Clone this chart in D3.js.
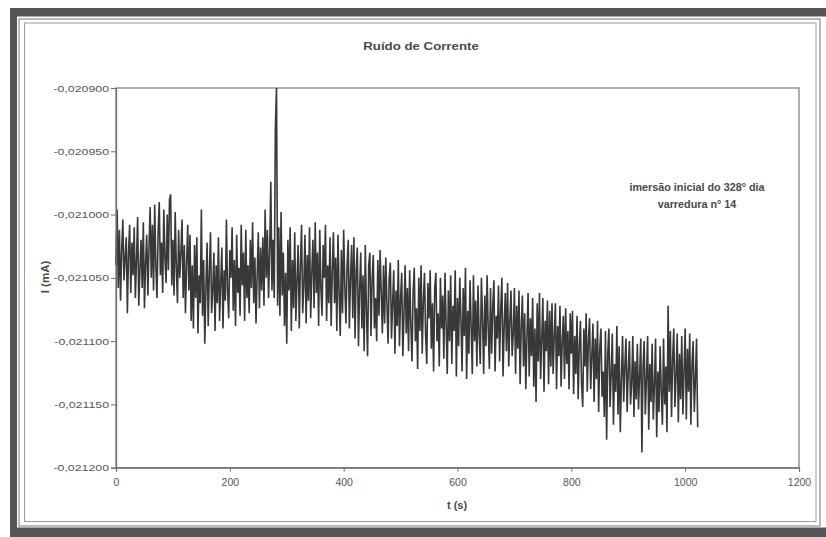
<!DOCTYPE html>
<html>
<head>
<meta charset="utf-8">
<script src="https://cdn.jsdelivr.net/npm/d3@7"></script>
<style>
  body { margin: 0; background: #fff; }
  svg { display: block; }
  text { font-family: "Liberation Sans", Arial, sans-serif; }
</style>
</head>
<body>
<div id="chart"></div>
<script>
// current samples in nA (1 nA = 1e-6 mA), one sample every 2 s
var sampleStep = 2;
var currentNA = [
  -21040, -20996, -21058, -21012, -21068, -21028, -21004, -21052, -21034, -21018, -21078, -21030, -21008, -21062, -21022, -21048,
  -21010, -21066, -21036, -21002, -21072, -21044, -21020, -21058, -21006, -21074, -21038, -21016, -21064, -21026, -20994, -21050,
  -21008, -21060, -20992, -21040, -21066, -21014, -20990, -21048, -21022, -21062, -20996, -21034, -21054, -21000, -21044, -20988,
  -20984, -21056, -21020, -21064, -20998, -21042, -21070, -21012, -21050, -21030, -21004, -21066, -21024, -21078, -21040, -21008,
  -21060, -21016, -21084, -21040, -21090, -21024, -21066, -21018, -21094, -21048, -21070, -20996, -21080, -21036, -21102, -21058,
  -21022, -21088, -21046, -21014, -21078, -21060, -21030, -21092, -21040, -21070, -21018, -21084, -21054, -21026, -21090, -21044,
  -21068, -21004, -21060, -21082, -21028, -21050, -21010, -21076, -21036, -21088, -21016, -21062, -21042, -21080, -21008, -21056,
  -21030, -21084, -21012, -21066, -21040, -21078, -21020, -21058, -21006, -21070, -21034, -21086, -21048, -21014, -21074, -21026,
  -21060, -21018, -21072, -20996, -21050, -21012, -21066, -21030, -20974, -21060, -21020, -21066, -20932, -20900, -21072, -21010,
  -21080, -20998, -21064, -21030, -21088, -21046, -21102, -21020, -21060, -21010, -21092, -21036, -21074, -21014, -21084, -21052,
  -21024, -21090, -21040, -21008, -21078, -21056, -21016, -21086, -21032, -21068, -21010, -21082, -21046, -21020, -21074, -21006,
  -21062, -21030, -21088, -21012, -21058, -21080, -21024, -21050, -21008, -21084, -21040, -21070, -21018, -21088, -21044, -21014,
  -21070, -21034, -21092, -21016, -21062, -21096, -21028, -21078, -21012, -21056, -21086, -21040, -21020, -21090, -21050, -21024,
  -21082, -21018, -21098, -21044, -21026, -21104, -21060, -21030, -21090, -21048, -21108, -21024, -21076, -21112, -21040, -21030,
  -21096, -21052, -21032, -21090, -21066, -21100, -21036, -21080, -21028, -21062, -21094, -21040, -21086, -21034, -21070, -21102,
  -21050, -21038, -21098, -21070, -21044, -21110, -21060, -21088, -21036, -21104, -21066, -21046, -21112, -21078, -21040, -21094,
  -21058, -21108, -21044, -21086, -21116, -21062, -21042, -21100, -21074, -21122, -21050, -21092, -21040, -21110, -21068, -21046,
  -21096, -21118, -21054, -21082, -21044, -21106, -21070, -21124, -21058, -21046, -21100, -21078, -21120, -21050, -21090, -21064,
  -21114, -21046, -21086, -21126, -21060, -21100, -21048, -21118, -21072, -21092, -21044, -21128, -21066, -21104, -21050, -21082,
  -21124, -21058, -21096, -21042, -21130, -21076, -21110, -21052, -21088, -21126, -21048, -21100, -21068, -21120, -21056, -21094,
  -21118, -21050, -21082, -21126, -21064, -21104, -21048, -21090, -21122, -21058, -21110, -21072, -21052, -21124, -21080, -21098,
  -21056, -21116, -21074, -21050, -21128, -21088, -21062, -21108, -21054, -21120, -21084, -21060, -21112, -21094, -21058, -21126,
  -21072, -21106, -21060, -21134, -21088, -21064, -21120, -21078, -21138, -21096, -21062, -21128, -21082, -21112, -21066, -21136,
  -21090, -21148, -21070, -21116, -21062, -21130, -21098, -21066, -21140, -21084, -21108, -21068, -21134, -21076, -21120, -21070,
  -21126, -21096, -21070, -21138, -21088, -21112, -21072, -21136, -21100, -21080, -21130, -21074, -21118, -21092, -21138, -21078,
  -21110, -21076, -21142, -21096, -21126, -21080, -21146, -21104, -21084, -21134, -21152, -21090, -21120, -21078, -21140, -21100,
  -21082, -21138, -21112, -21086, -21148, -21098, -21130, -21084, -21156, -21106, -21090, -21144, -21124, -21160, -21092, -21178,
  -21110, -21090, -21152, -21126, -21094, -21166, -21118, -21140, -21088, -21158, -21104, -21172, -21130, -21096, -21148, -21120,
  -21098, -21156, -21124, -21100, -21150, -21134, -21096, -21160, -21116, -21146, -21102, -21154, -21126, -21098, -21188, -21120,
  -21100, -21158, -21130, -21096, -21170, -21118, -21148, -21102, -21162, -21134, -21098, -21176, -21124, -21156, -21104, -21140,
  -21166, -21098, -21150, -21120, -21172, -21072, -21140, -21092, -21160, -21114, -21090, -21152, -21128, -21094, -21164, -21110,
  -21146, -21096, -21158, -21124, -21090, -21162, -21106, -21140, -21094, -21166, -21118, -21100, -21156, -21130, -21098, -21168
];
var xTicks = [0, 200, 400, 600, 800, 1000, 1200];
var yTicks = [-0.0212, -0.02115, -0.0211, -0.02105, -0.021, -0.02095, -0.0209];
var titleText = "Ruído de Corrente";
var xLabel = "t (s)";
var yLabel = "I (mA)";
var noteLines = ["imersão inicial do 328° dia", "varredura n° 14"];

var W = 826, H = 537;
var PLOT = {left: 116, right: 799, top: 88, bottom: 467.7};

var svg = d3.select("#chart").append("svg")
    .attr("width", W)
    .attr("height", H);

svg.append("rect").attr("width", W).attr("height", H).attr("fill", "#fff");

// dark scanned border (top, left, bottom)
var dark = "#565656";
svg.append("rect").attr("x", 10).attr("y", 8).attr("width", W - 10).attr("height", 8.5).attr("fill", dark);
svg.append("rect").attr("x", 10).attr("y", 8).attr("width", 7).attr("height", H - 8).attr("fill", dark);
svg.append("rect").attr("x", 10).attr("y", 527.5).attr("width", W - 10).attr("height", 10).attr("fill", dark);

// double frame of the chart area
svg.append("rect").attr("x", 19).attr("y", 19).attr("width", 801).attr("height", 507)
    .attr("fill", "none").attr("stroke", "#8c8c8c").attr("stroke-width", 1.2);
svg.append("rect").attr("x", 24.5).attr("y", 23).attr("width", 791.5).attr("height", 498.5)
    .attr("fill", "none").attr("stroke", "#9a9a9a").attr("stroke-width", 1);

var x = d3.scaleLinear().domain([0, 1200]).range([PLOT.left, PLOT.right]);
var y = d3.scaleLinear().domain([-0.0212, -0.0209]).range([PLOT.bottom, PLOT.top]);

// plot box
svg.append("rect")
    .attr("x", PLOT.left).attr("y", PLOT.top)
    .attr("width", PLOT.right - PLOT.left).attr("height", PLOT.bottom - PLOT.top)
    .attr("fill", "none").attr("stroke", "#7a7a7a").attr("stroke-width", 1.2);

var times = currentNA.map(function(d, i) { return i * sampleStep; });
var valueline = d3.line()
    .x(function(d, i) { return x(times[i]); })
    .y(function(d) { return y(d / 1e6); });

svg.append("path")
    .datum(currentNA)
    .attr("fill", "none")
    .attr("stroke", "#383838")
    .attr("stroke-width", 1.6)
    .attr("stroke-linejoin", "bevel")
    .attr("d", valueline);

// X axis
var gx = svg.append("g")
    .attr("transform", "translate(0," + PLOT.bottom + ")")
    .call(d3.axisBottom(x).tickValues(xTicks).tickSize(4).tickPadding(7).tickFormat(d3.format("d")));
gx.select(".domain").attr("stroke", "#6e6e6e").attr("stroke-width", 1.2);
gx.selectAll("line").attr("stroke", "#6e6e6e");
gx.selectAll("text")
    .attr("fill", "#555")
    .style("font-size", "10.5px")
    .style("font-family", "'Liberation Sans', Arial, sans-serif");

// Y axis
var fmt = function(d) { return d3.format(".6f")(d).replace("\u2212", "-").replace(".", ","); };
var gy = svg.append("g")
    .attr("transform", "translate(" + PLOT.left + ",0)")
    .call(d3.axisLeft(y).tickValues(yTicks).tickSize(5).tickFormat(fmt));
gy.select(".domain").attr("stroke", "#6e6e6e").attr("stroke-width", 1.2);
gy.selectAll("line").attr("stroke", "#6e6e6e");
gy.selectAll("text")
    .attr("fill", "#555")
    .attr("x", -5.4)
    .attr("transform", "scale(1.3,1)")
    .style("font-size", "9.5px")
    .style("font-family", "'Liberation Sans', Arial, sans-serif");

// title
svg.append("text")
    .attr("transform", "translate(421,50) scale(1.3,1)")
    .attr("text-anchor", "middle")
    .attr("fill", "#4a4a4a")
    .style("font-size", "10.2px")
    .style("font-weight", "bold")
    .text(titleText);

// axis titles
svg.append("text")
    .attr("transform", "translate(457,509)")
    .attr("text-anchor", "middle")
    .attr("fill", "#4a4a4a")
    .style("font-size", "11px")
    .style("font-weight", "bold")
    .text(xLabel);

svg.append("text")
    .attr("transform", "translate(49,277) rotate(-90)")
    .attr("text-anchor", "middle")
    .attr("fill", "#4a4a4a")
    .style("font-size", "11.5px")
    .style("font-weight", "bold")
    .text(yLabel);

// annotation
svg.append("g").selectAll("text")
    .data(noteLines)
    .join("text")
    .attr("x", 697)
    .attr("y", function(d, i) { return 191 + i * 17; })
    .attr("text-anchor", "middle")
    .attr("fill", "#4a4a4a")
    .style("font-size", "10.8px")
    .style("font-weight", "bold")
    .text(function(d) { return d; });
</script>
</body>
</html>
